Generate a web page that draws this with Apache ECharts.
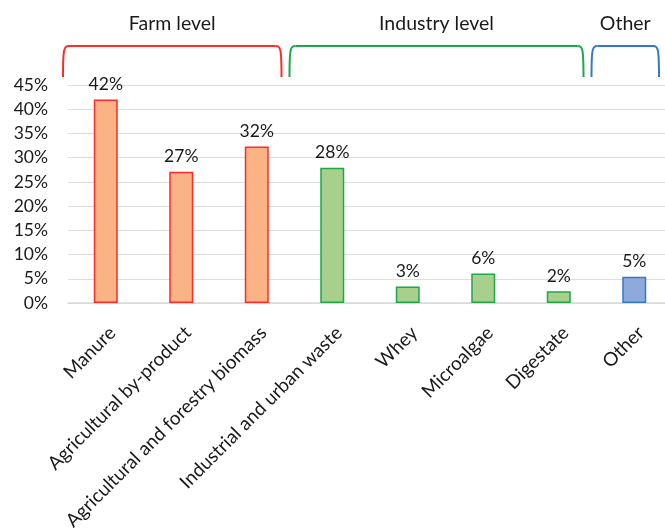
<!DOCTYPE html>
<html><head><meta charset="utf-8">
<script src="https://cdn.jsdelivr.net/npm/echarts@6/dist/echarts.min.js"></script>
<style>html,body{margin:0;padding:0;background:#fff}#c{width:665px;height:528px}</style>
</head><body><div id="c"></div>
<script>
// ---- data ----
const categories = ['Manure', 'Agricultural by-product', 'Agricultural and forestry biomass',
  'Industrial and urban waste', 'Whey', 'Microalgae', 'Digestate', 'Other'];
const values = [42.0, 27.1, 32.3, 27.9, 3.4, 6.1, 2.4, 5.4];
const groupOf = ['farm', 'farm', 'farm', 'industry', 'industry', 'industry', 'industry', 'other'];
const groupKeys = ['farm', 'industry', 'other'];
const groupNames = ['Farm level', 'Industry level', 'Other'];
const groupFirst = [0, 3, 7];
const groupLast = [2, 6, 7];
const yMin = 0, yMax = 45, yStep = 5;

// ---- styles ----
const FONT = 'Lato';
const fillColor = { farm: '#f9b384', industry: '#a8cf8c', other: '#8eaadc' };
const edgeColor = { farm: '#ff2a2a', industry: '#1ea84a', other: '#3578c8' };
const GRID = { left: 68, right: -7, top: 85, bottom: 225, containLabel: false, outerBoundsMode: 'none' };

const chart = echarts.init(document.getElementById('c'), null, { renderer: 'canvas' });
chart.setOption({
  animation: false,
  backgroundColor: '#fff',
  grid: GRID,
  xAxis: {
    type: 'category',
    data: categories,
    axisTick: { show: false },
    axisLine: { lineStyle: { color: '#d9d9d9', width: 1.5 } },
    axisLabel: {
      interval: 0, rotate: 45, margin: 20, verticalAlign: 'top',
      fontFamily: FONT, fontSize: 19, color: '#1a1a1a'
    }
  },
  yAxis: {
    type: 'value', min: yMin, max: yMax, interval: yStep,
    axisLine: { show: false }, axisTick: { show: false },
    splitLine: { lineStyle: { color: '#dedede', width: 1.2 } },
    axisLabel: { formatter: '{value}%', margin: 20, fontFamily: FONT, fontSize: 17.5, color: '#1a1a1a' }
  },
  series: [{
    type: 'bar',
    barWidth: 24,
    data: values.map((v, i) => ({
      value: v,
      itemStyle: { color: fillColor[groupOf[i]], borderColor: edgeColor[groupOf[i]], borderWidth: 1.5 }
    })),
    label: {
      show: true, position: 'top', distance: 6,
      fontFamily: FONT, fontSize: 17.5, color: '#1a1a1a',
      formatter: p => Math.round(p.value) + '%'
    }
  }]
});

// ---- group brackets, positioned from the category axis ----
const px = i => chart.convertToPixel({ xAxisIndex: 0 }, i);
const band = px(1) - px(0);
const yBot = GRID.top - 8, yTop = GRID.top - 39, r = 6;
const elements = [];
groupKeys.forEach((k, g) => {
  const x1 = px(groupFirst[g]) - band / 2 - 5;
  const x2 = px(groupLast[g]) + band / 2 - 13;
  const stroke = { stroke: edgeColor[k], lineWidth: 2, fill: null };
  elements.push({ type: 'line', shape: { x1: x1 + r, y1: yTop, x2: x2 - r, y2: yTop }, style: stroke, silent: true });
  elements.push({ type: 'bezierCurve', shape: { x1: x1, y1: yBot, cpx1: x1, cpy1: yTop + 2, cpx2: x1 + 1, cpy2: yTop, x2: x1 + r, y2: yTop }, style: stroke, silent: true });
  elements.push({ type: 'bezierCurve', shape: { x1: x2, y1: yBot, cpx1: x2, cpy1: yTop + 2, cpx2: x2 - 1, cpy2: yTop, x2: x2 - r, y2: yTop }, style: stroke, silent: true });
  elements.push({ type: 'text', x: (x1 + x2) / 2, y: yTop - 22, style: { text: groupNames[g], font: '19.5px ' + FONT, fill: '#1a1a1a', textAlign: 'center', textVerticalAlign: 'middle' }, silent: true });
});
chart.setOption({ graphic: { elements } });
</script>
</body></html>
